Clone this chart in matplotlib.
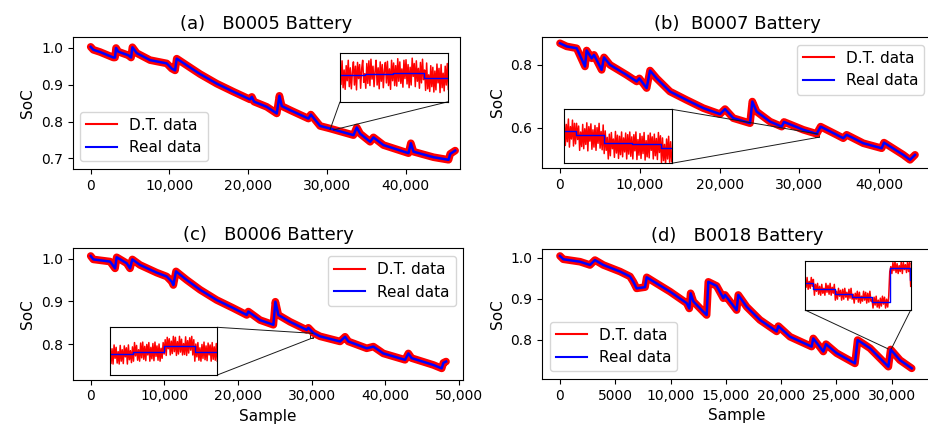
import numpy as np
import matplotlib
matplotlib.use("Agg")
import matplotlib.pyplot as plt
from matplotlib.lines import Line2D
from matplotlib.ticker import FuncFormatter
from mpl_toolkits.axes_grid1.inset_locator import mark_inset

# ----------------------------------------------------------------------------------------------
# real SoC curves as (sample, SoC) break points
b5_x = [0, 340, 1190, 2880, 3090, 3220, 3500, 4790, 5130, 5300, 5850, 7540, 9660, 10300, 10720, 10930,
        12200, 13900, 16020, 18140, 20250, 20470, 20760, 22370, 23640, 23980, 24280, 25340, 27670, 27970,
        29150, 30420, 33390, 33810, 34240, 35510, 35930, 37200, 40380, 40680, 41020, 43560, 45470, 45680, 46310]
b5_y = [1.003, 0.995, 0.989, 0.974, 0.974, 1.000, 0.990, 0.980, 0.974, 1.002, 0.986, 0.967, 0.958, 0.944, 0.939, 0.971,
        0.953, 0.929, 0.903, 0.881, 0.860, 0.867, 0.854, 0.840, 0.822, 0.870, 0.842, 0.831, 0.808, 0.819,
        0.788, 0.781, 0.763, 0.784, 0.767, 0.745, 0.757, 0.736, 0.714, 0.741, 0.718, 0.703, 0.696, 0.712, 0.721]

b7_x = [0, 835, 2090, 3130, 3340, 3970, 4260, 5220, 5510, 6270, 8350, 9610, 9940, 10860, 11280, 12110,
        13780, 15870, 17960, 20050, 20680, 21720, 23810, 24100, 24640, 26320, 27780, 28070, 30490, 32160,
        32660, 34670, 35500, 35920, 38010, 40310, 40600, 43020, 43860, 44490]
b7_y = [0.869, 0.859, 0.853, 0.795, 0.846, 0.821, 0.832, 0.784, 0.824, 0.800, 0.768, 0.747, 0.757, 0.726, 0.782, 0.757,
        0.715, 0.688, 0.662, 0.643, 0.659, 0.630, 0.614, 0.683, 0.651, 0.619, 0.603, 0.618, 0.593, 0.580,
        0.603, 0.577, 0.566, 0.577, 0.550, 0.534, 0.552, 0.513, 0.497, 0.513]

b6_x = [0, 360, 2630, 3310, 3530, 4890, 5340, 5660, 6700, 8970, 10330, 11010, 11230, 11590, 13040, 14860,
        17120, 19380, 21200, 21420, 23010, 24820, 25090, 25500, 27080, 29350, 29570, 30250, 31160, 33880,
        34560, 35010, 37500, 38410, 39760, 42710, 43160, 43610, 46560, 47690, 47920, 48280]
b6_y = [1.006, 0.998, 0.993, 0.977, 1.003, 0.989, 0.977, 0.998, 0.985, 0.967, 0.958, 0.946, 0.938, 0.970, 0.950, 0.927,
        0.903, 0.884, 0.868, 0.876, 0.856, 0.845, 0.899, 0.868, 0.852, 0.833, 0.838, 0.826, 0.818, 0.806,
        0.817, 0.806, 0.790, 0.794, 0.778, 0.763, 0.778, 0.767, 0.751, 0.743, 0.756, 0.759]

b18_x = [0, 300, 1810, 2710, 3160, 3920, 5430, 6330, 6630, 6930, 7690, 7840, 8740, 9950, 11450, 11690,
         11810, 12060, 12960, 13260, 13410, 14160, 14770, 14920, 15970, 16120, 16880, 18080, 19590, 19740,
         20800, 22750, 22900, 23810, 24050, 25010, 26670, 26910, 28030, 29690, 29900, 30740, 31800]
b18_y = [1.004, 0.996, 0.990, 0.982, 0.994, 0.982, 0.966, 0.954, 0.941, 0.925, 0.928, 0.952, 0.937, 0.917, 0.889, 0.876,
         0.913, 0.893, 0.868, 0.860, 0.941, 0.931, 0.901, 0.909, 0.872, 0.909, 0.880, 0.848, 0.820, 0.833,
         0.807, 0.783, 0.803, 0.771, 0.789, 0.767, 0.742, 0.799, 0.779, 0.734, 0.776, 0.750, 0.730]

# ----------------------------------------------------------------------------------------------
# zoomed windows: step levels of the real data and the D.T. noise (1e-4 SoC units)
ins5_x = [30400, 30492, 30596, 30712, 30800]
ins5_y = [0.7820, 0.7821, 0.7823, 0.7815, 0.7815]
ins5_noise = [21, -18, 26, -24, 9, -27, 17, -11, 27, -22, 13, -26, 4, 24, -19, 16, -28, 23, -7, 19, -25, 11,
              27, -14, 2, -26, 20, -17, 25, -21, 28, -9, 15, -23, 6, 26, -20, 12, -27, 23, -13, 18, -25, 7,
              22, -16, 24, -21, 10, -28, 26, -12, 19, -23, 14, -24, 27, -15, 21, -19, 8, -26, 24, -10,
              25, -20, 16, -27, 11, -22, 28, -6, 18, -25, 23, -15, 9, -28, 20, -18, 26, -12, 14, -24, 27,
              -21, 5, -26, 22, -17, 19, -27, 12, -23, 25, -10, 17, -28, 24, -19, 8, -25, 21, -14, 26, -22]

ins7_x = [32000, 32044, 32148, 32252, 32360, 32400]
ins7_y = [0.5750, 0.5743, 0.5728, 0.5726, 0.5718, 0.5718]
ins7_noise = [18, -27, 12, -20, 22, -30, 8, -15, 20, -28, 14, -24, 21, -9, 16, -29, 5, -22, 19, -26, 11, -18,
              22, -30, 15, -12, 20, -27, 9, -23, 17, -29, 13, -16, 21, -25, 6, -28, 18, -20, 22, -14, 10, -30,
              16, -24, 19, -11, 7, -27, 21, -19, 14, -29, 12, -22, 20, -26, 9, -17, 18, -30, 15, -21,
              20, -25, 11, -28, 17, -13, 22, -29, 8, -21, 19, -27, 14, -18, 21, -30, 6, -24, 16, -26, 20,
              -12, 13, -28, 18, -22, 10, -29, 21, -16, 15, -27, 19, -23, 7, -30, 17, -20, 22, -26, 12, -25]

ins6_x = [29850, 29934, 30050, 30166, 30250]
ins6_y = [0.8193, 0.8199, 0.8211, 0.8199, 0.8199]
ins6_noise = [17, -19, 12, -20, 20, -8, 15, -18, 6, -20, 19, -14, 10, -19, 18, -5, 14, -20, 20, -11, 8, -17,
              16, -20, 19, -9, 13, -18, 4, -20, 18, -13, 20, -16, 11, -19, 15, -7, 19, -20, 9, -15, 17, -19,
              20, -10, 12, -18, 16, -20, 7, -14, 19, -17, 13, -20, 18, -6, 15, -19, 10, -16, 20, -12,
              18, -20, 9, -17, 20, -13, 14, -19, 5, -18, 19, -20, 11, -15, 17, -9, 20, -19, 13, -20, 16,
              -11, 19, -18, 8, -20, 15, -14, 20, -17, 12, -19, 18, -7, 14, -20, 19, -16, 10, -18, 17, -20]

ins18_x = [29700, 29720, 29770, 29812, 29858, 29900, 29948, 29950]
ins18_y = [0.7797, 0.7791, 0.7786, 0.7783, 0.7778, 0.7813, 0.7800, 0.7800]
ins18_noise = [5, -4, 6, -6, 2, -5, 6, -3, 4, -6, 5, -2, 6, -5, 3, -6, 5, -4, 1, -6, 6, -3, 4, -5, 6, -6,
               2, -4, 5, -6, 3, -5, 6, -2, 4, -6, 5, -5, 6, -3, 2, -6, 5, -4, 6, -5, 3, -6, 4, -2, 6, -5,
               5, -6, 1, -4, 6, -3, 5, -6, 4, -5, 6, -4, 3, -6, 5, -3, 6, -5, 2, -6, 4, -4, 6, -2,
               5, -6, 3, -5, 6, -4, 1, -6, 5, -3, 6, -5, 4, -6, 2, -4, 6, -6, 5, -2, 3, -5, 6, -4, 5, -6]

titles = ["(a)   B0005 Battery", "(b)  B0007 Battery", "(c)   B0006 Battery", "(d)   B0018 Battery"]

# ----------------------------------------------------------------------------------------------
W, H = 929, 425
fig = plt.figure(figsize=(W / 100, H / 100), dpi=100)


def box(l, t, r, b):  # pixel box -> figure fraction
    return [l / W, 1 - b / H, (r - l) / W, (b - t) / H]


def sample_fmt(v, pos):
    if abs(v) >= 10000:
        return f"{v:,.0f}"
    return f"{v:.0f}"


def panel(rect, x, y, title, xlim, ylim, yticks, xticks, legend_loc, xlabel=False):
    ax = fig.add_axes(box(*rect))
    ax.plot(x, y, color="red", lw=5.5, solid_joinstyle="round", solid_capstyle="round")  # D.T. band
    ax.plot(x, y, color="blue", lw=1.8)
    ax.set_xlim(*xlim)
    ax.set_ylim(*ylim)
    ax.set_xticks(xticks)
    ax.set_yticks(yticks)
    ax.xaxis.set_major_formatter(FuncFormatter(sample_fmt))
    ax.tick_params(labelsize=10)
    ax.set_title(title, fontsize=13)
    ax.set_ylabel("SoC", fontsize=11)
    if xlabel:
        ax.set_xlabel("Sample", fontsize=11)
    handles = [Line2D([], [], color="red", lw=1.5), Line2D([], [], color="blue", lw=1.5)]
    ax.legend(handles, ["D.T. data", "Real data"], loc=legend_loc, fontsize=11)
    return ax


def zoom_box(ax, rect, xs, ys, noise, ylim, loc1, loc2):
    axins = fig.add_axes(box(*rect))
    xs = np.array(xs)
    ys = np.array(ys)
    xd = np.linspace(xs[0], xs[-1], len(noise))
    idx = np.searchsorted(xs, xd, side="right") - 1
    idx = np.clip(idx, 0, len(ys) - 1)
    axins.plot(xd, ys[idx] + np.array(noise) * 1e-4, color="red", lw=1.1)
    axins.step(xs, ys, where="post", color="blue", lw=1)
    axins.set_xlim(xs[0], xs[-1])
    axins.set_ylim(*ylim)
    axins.set_xticks([])
    axins.set_yticks([])
    mark_inset(ax, axins, loc1=loc1, loc2=loc2, fc="none", ec="0.1", lw=0.7)
    return axins


ax_a = panel((72.7, 37.3, 460, 169), b5_x, b5_y, titles[0], (-2287, 46925), (0.671, 1.029),
             [0.7, 0.8, 0.9, 1.0], [0, 10000, 20000, 30000, 40000], "lower left")
ax_b = panel((542.3, 37, 932, 168), b7_x, b7_y, titles[1], (-2218, 46617), (0.471, 0.889),
             [0.6, 0.8], [0, 10000, 20000, 30000, 40000], "upper right")
ax_c = panel((72.7, 248.3, 463.3, 379.5), b6_x, b6_y, titles[2], (-2446, 50625), (0.717, 1.024),
             [0.8, 0.9, 1.0], [0, 10000, 20000, 30000, 40000, 50000], "upper right", xlabel=True)
ax_d = panel((542.3, 249, 932, 379), b18_x, b18_y, titles[3], (-1600, 33635), (0.704, 1.021),
             [0.8, 0.9, 1.0], [0, 5000, 10000, 15000, 20000, 25000, 30000], "lower left", xlabel=True)

zoom_box(ax_a, (340, 53.3, 448.3, 101.7), ins5_x, ins5_y, ins5_noise, (0.7770, 0.7860), 3, 4)
zoom_box(ax_b, (564.3, 109.3, 671.7, 163.3), ins7_x, ins7_y, ins7_noise, (0.5690, 0.5790), 1, 4)
zoom_box(ax_c, (110, 327.3, 217.3, 375), ins6_x, ins6_y, ins6_noise, (0.8150, 0.8250), 1, 4)
zoom_box(ax_d, (805, 260.7, 910.7, 310), ins18_x, ins18_y, ins18_noise, (0.7770, 0.7820), 3, 4)

fig.savefig("out.png", dpi=100)
